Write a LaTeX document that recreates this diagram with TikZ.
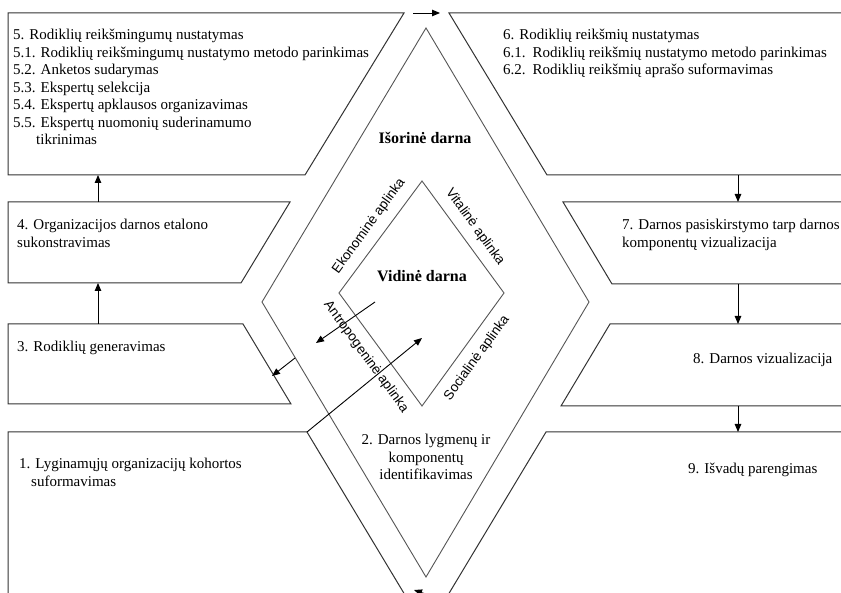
\documentclass[tikz,border=0pt]{standalone}
\usepackage{fontspec}
\setmainfont{Liberation Serif}
\newfontfamily\sansf{Liberation Sans}
\usepackage{xcolor}
\usepackage{tikz}
\usetikzlibrary{arrows.meta,positioning}
\definecolor{linec}{HTML}{333333}
\definecolor{diac}{HTML}{555555}
\tikzset{
  ar/.style={-{Triangle[length=8pt,width=6.5pt]},line width=0.9pt,black},
  box/.style={draw=linec,line width=1pt},
  dia/.style={draw=diac,line width=0.9pt},
  txt/.style={font=\fontsize{15}{17.5}\selectfont,align=left,inner sep=0pt,anchor=north west},
  env/.style={font=\sansf\fontsize{13.5}{15}\selectfont,inner sep=0pt},
  hd/.style={font=\bfseries\fontsize{16}{18}\selectfont,inner sep=0pt}
}

\begin{document}
\begin{tikzpicture}[x=1pt,y=-1pt]
\clip (0,0) rectangle (841,593);
\fill[white] (0,0) rectangle (841,593);
% left column
\draw[box] (8,13) -- (404,13) -- (305,175) -- (8,175) -- cycle;
\draw[box] (8,202) -- (290,202) -- (241,283) -- (8,283) -- cycle;
\draw[box] (8,324) -- (243,324) -- (291,404) -- (8,404) -- cycle;
\draw[box] (8,605) -- (8,432) -- (307,432) -- (411,605);
% right column
\draw[box] (850,13) -- (449,13) -- (547,175) -- (850,175);
\draw[box] (850,202) -- (563,202) -- (612,284) -- (850,284);
\draw[box] (850,324) -- (610,324) -- (561,406) -- (850,406);
\draw[box] (850,432) -- (546,432) -- (442,605);
% outer and inner diamond
\draw[dia] (426,28) -- (589,302) -- (426,577) -- (262,302) -- cycle;
\draw[dia] (422,181) -- (504,293) -- (422,406) -- (339,293) -- cycle;

\node[txt] (t5) at (13,29) {5. Rodiklių reikšmingumų nustatymas\\
  5.1. Rodiklių reikšmingumų nustatymo metodo parinkimas\\
  5.2. Anketos sudarymas\\ 5.3. Ekspertų selekcija\\
  5.4. Ekspertų apklausos organizavimas\\
  5.5. Ekspertų nuomonių suderinamumo\\ \hspace*{23pt}tikrinimas};
\node[txt] (t4) at (17,219) {4. Organizacijos darnos etalono\\sukonstravimas};
\node[txt] (t3) at (17,341) {3. Rodiklių generavimas};
\node[txt] (t1) at (19,458) {1. Lyginamųjų organizacijų kohortos\\ \hspace*{12pt}suformavimas};
\node[txt] (t6) at (503,29) {6. Rodiklių reikšmių nustatymas\\
  6.1.\hspace{7pt}Rodiklių reikšmių nustatymo metodo parinkimas\\
  6.2.\hspace{7pt}Rodiklių reikšmių aprašo suformavimas};
\node[txt] (t7) at (622,219) {7. Darnos pasiskirstymo tarp darnos\\komponentų vizualizacija};
\node[txt] (t8) at (693,353) {8. Darnos vizualizacija};
\node[txt] (t9) at (688,463) {9. Išvadų parengimas};
\node[txt,anchor=north,align=center] (t2) at (426,434) {2. Darnos lygmenų ir\\komponentų\\identifikavimas};

\node[hd] (iso) at (425,138) {Išorinė darna};
\node[hd] (vid) at (422,276) {Vidinė darna};
\node[env,rotate=54] (eko) at (369,226) {Ekonominė aplinka};
\node[env,rotate=-54] (vit) at (475,227) {Vitalinė aplinka};
\node[env,rotate=-54] (ant) at (366,357) {Antropogeninė aplinka};
\node[env,rotate=54] (soc) at (477,358) {Socialinė aplinka};

% arrow ends
\coordinate (e5) at (413,13); \coordinate (w6) at (440,13);
\coordinate (n4) at (98,202); \coordinate (s5) at (98,175);
\coordinate (n3) at (98,324); \coordinate (s4) at (98,283);
\coordinate (s6) at (738,175); \coordinate (n7) at (738,202);
\coordinate (s7) at (738,284); \coordinate (n8) at (738,324);
\coordinate (s8) at (738,406); \coordinate (n9) at (738,432);
\coordinate (c1) at (307,432); \coordinate (inA) at (422,338);
\coordinate (inB) at (375,302); \coordinate (outB) at (316,343);
\coordinate (rim) at (295,358); \coordinate (e3) at (272,376);
\coordinate (bt0) at (440,599); \coordinate (bt1) at (414,590);

\draw[ar] (e5) -- (w6);
\draw[ar] (n4) -- (s5);
\draw[ar] (n3) -- (s4);
\draw[ar] (s6) -- (n7);
\draw[ar] (s7) -- (n8);
\draw[ar] (s8) -- (n9);
\draw[ar] (c1) -- (inA);
\draw[ar] (inB) -- (outB);
\draw[ar] (rim) -- (e3);
\draw[ar] (bt0) -- (bt1);
\end{tikzpicture}
\end{document}
